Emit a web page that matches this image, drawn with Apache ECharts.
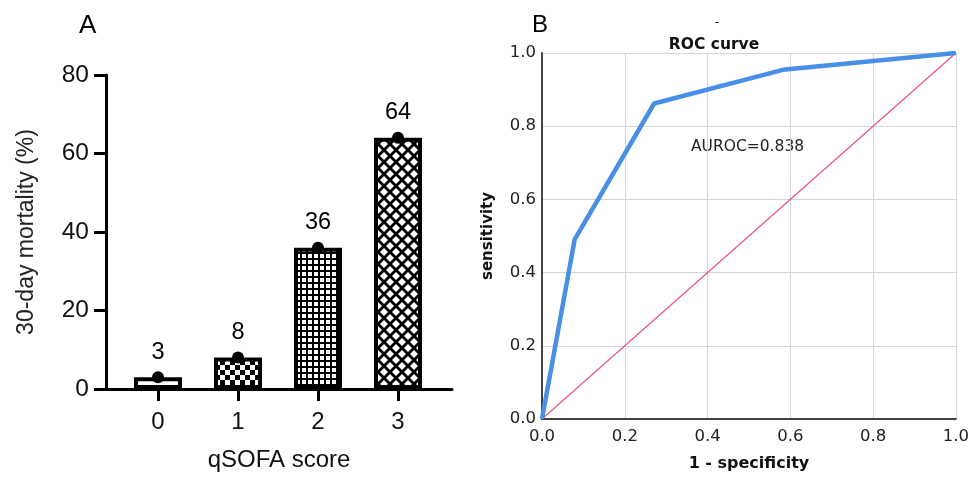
<!DOCTYPE html>
<html><head><meta charset="utf-8">
<script src="https://cdn.jsdelivr.net/npm/echarts@6/dist/echarts.min.js"></script>
<style>html,body{margin:0;padding:0;background:#fff}#c{width:972px;height:477px}</style>
</head><body><div id="c"></div>
<script>
// ---- Panel A data ----
const qsofaScores = [0, 1, 2, 3];
const mortality = [3, 8, 36, 64];
const mortalityTicks = [0, 20, 40, 60, 80];
// ---- Panel B data ----
const rocFpr = [0, 0.079, 0.271, 0.582, 1.0];
const rocTpr = [0, 0.491, 0.862, 0.954, 1.0];
const refLine = [[0, 0], [1, 1]];
const aurocText = 'AUROC=0.838';

function makeCanvas(w, h, draw) {
  const c = document.createElement('canvas');
  c.width = w; c.height = h;
  const ctx = c.getContext('2d');
  draw(ctx, w, h);
  return c;
}
const patWhite = '#ffffff';
const patChecker = makeCanvas(10, 10, (ctx) => {
  ctx.fillStyle = '#fff'; ctx.fillRect(0, 0, 10, 10);
  ctx.fillStyle = '#000'; ctx.fillRect(0, 0, 5, 5); ctx.fillRect(5, 5, 5, 5);
});
const patGrid = makeCanvas(6, 6, (ctx) => {
  ctx.fillStyle = '#000'; ctx.fillRect(0, 0, 6, 6);
  ctx.fillStyle = '#fff'; ctx.fillRect(2, 2, 4, 4);
});
const patCross = makeCanvas(12, 12, (ctx) => {
  ctx.fillStyle = '#000'; ctx.fillRect(0, 0, 12, 12);
  ctx.fillStyle = '#fff';
  const dia = (cx, cy, r) => { ctx.beginPath(); ctx.moveTo(cx, cy - r); ctx.lineTo(cx + r, cy); ctx.lineTo(cx, cy + r); ctx.lineTo(cx - r, cy); ctx.closePath(); ctx.fill(); };
  dia(6, 6, 4); dia(0, 0, 4); dia(12, 0, 4); dia(0, 12, 4); dia(12, 12, 4);
});
const barFills = [patWhite, {image: patChecker, repeat: 'repeat'}, {image: patGrid, repeat: 'repeat'}, {image: patCross, repeat: 'repeat'}];

const fA = 'Liberation Sans';
const fB = 'DejaVu Sans';

const chart = echarts.init(document.getElementById('c'), null, {renderer: 'canvas'});
chart.setOption({
  animation: false,
  title: [
    {text: 'A', left: 74, top: 8, textStyle: {fontFamily: fA, fontSize: 26, fontWeight: 'normal', color: '#000'}},
    {text: 'B', left: 527, top: 8, textStyle: {fontFamily: fA, fontSize: 24, fontWeight: 'normal', color: '#000'}},
    {text: '-', left: 710, top: 12, textStyle: {fontFamily: fB, fontSize: 12, fontWeight: 'normal', color: '#000'}},
    {text: 'ROC curve', left: 709, top: 32, textAlign: 'center', textStyle: {fontFamily: fB, fontSize: 15.5, fontWeight: 'bold', color: '#111'}}
  ],
  grid: [
    {left: 106, top: 75, width: 346, height: 316},
    {left: 542, top: 53, width: 415, height: 371}
  ],
  xAxis: [
    {gridIndex: 0, type: 'value', min: -0.65, max: 3.675,
      name: 'qSOFA score', nameLocation: 'middle', nameGap: 59,
      nameTextStyle: {fontFamily: fA, fontSize: 24, color: '#111'},
      axisLine: {show: true, onZero: false, lineStyle: {color: '#000', width: 3}},
      axisTick: {show: true, customValues: qsofaScores, length: 12, lineStyle: {color: '#000', width: 3}},
      axisLabel: {show: true, customValues: qsofaScores, margin: 21, fontFamily: fA, fontSize: 24, color: '#111'},
      splitLine: {show: false}},
    {gridIndex: 1, type: 'value', min: 0, max: 1, interval: 0.2,
      name: '1 - specificity', nameLocation: 'middle', nameGap: 37,
      nameTextStyle: {fontFamily: fB, fontSize: 16, fontWeight: 'bold', color: '#111'},
      axisLine: {show: true, onZero: false, lineStyle: {color: '#444', width: 2}},
      axisTick: {show: false},
      axisLabel: {margin: 9, fontFamily: fB, fontSize: 16.5, color: '#222', formatter: v => v.toFixed(1)},
      splitLine: {show: true, lineStyle: {color: '#d4d4d4', width: 1}}}
  ],
  yAxis: [
    {gridIndex: 0, type: 'value', min: 0, max: 80, interval: 20,
      name: '30-day mortality (%)', nameLocation: 'middle', nameGap: 68,
      nameTextStyle: {fontFamily: fA, fontSize: 23, color: '#222'},
      axisLine: {show: true, onZero: false, lineStyle: {color: '#000', width: 3}},
      axisTick: {show: true, length: 12, lineStyle: {color: '#000', width: 3}},
      axisLabel: {margin: 17, fontFamily: fA, fontSize: 24.5, color: '#111', customValues: mortalityTicks},
      splitLine: {show: false}},
    {gridIndex: 1, type: 'value', min: 0, max: 1, interval: 0.2,
      name: 'sensitivity', nameLocation: 'middle', nameGap: 46,
      nameTextStyle: {fontFamily: fB, fontSize: 15, fontWeight: 'bold', color: '#111'},
      axisLine: {show: true, onZero: false, lineStyle: {color: '#444', width: 2}},
      axisTick: {show: false},
      axisLabel: {margin: 6, fontFamily: fB, fontSize: 16.5, color: '#222', formatter: v => v.toFixed(1)},
      splitLine: {show: true, lineStyle: {color: '#d4d4d4', width: 1}}}
  ],
  series: [
    {type: 'bar', xAxisIndex: 0, yAxisIndex: 0, barWidth: 48,
      label: {show: true, position: 'top', distance: 13, fontFamily: fA, fontSize: 23.5, color: '#000', formatter: p => String(p.value[1])},
      data: qsofaScores.map((s, i) => ({value: [s, mortality[i]], itemStyle: {color: barFills[i], borderColor: '#000', borderWidth: 4}}))},
    {type: 'scatter', xAxisIndex: 0, yAxisIndex: 0, symbolSize: 12, z: 5,
      itemStyle: {color: '#000', opacity: 1},
      data: qsofaScores.map((s, i) => [s, mortality[i]])},
    {type: 'line', xAxisIndex: 1, yAxisIndex: 1, symbol: 'none', z: 3,
      lineStyle: {color: '#e8557a', width: 1.2}, data: refLine},
    {type: 'line', xAxisIndex: 1, yAxisIndex: 1, symbol: 'none', z: 4,
      lineStyle: {color: '#4a8fe6', width: 4.5},
      data: rocFpr.map((x, i) => [x, rocTpr[i]])}
  ],
  graphic: [
    {type: 'text', left: 691, top: 139, style: {text: aurocText, font: '15.5px "DejaVu Sans"', fill: '#222'}}
  ]
});
</script></body></html>
